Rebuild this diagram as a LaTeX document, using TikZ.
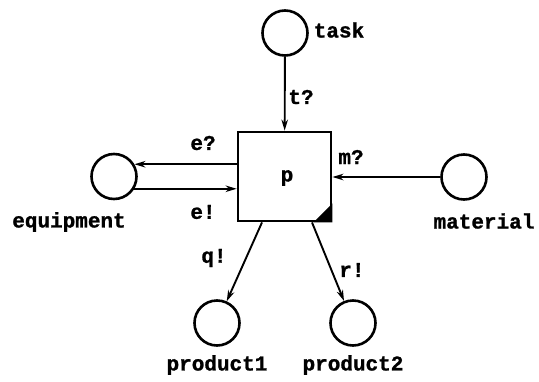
\documentclass[tikz,border=0pt]{standalone}
\usepackage{fontspec}
\newfontfamily\labelfont{Liberation Mono}[BoldFont=* Bold, BoldFeatures={FakeBold=1.2}]
\usetikzlibrary{arrows.meta}
\tikzset{
  place/.style={circle, draw, line width=2.6pt, minimum size=45pt, inner sep=0pt},
  process/.style={rectangle, draw, line width=2.8pt, minimum width=93pt, minimum height=89pt, inner sep=0pt},
  txt/.style={font=\labelfont\bfseries\fontsize{21}{21}\selectfont, inner sep=0pt},
  chan/.style={line width=1.9pt, -{Stealth[length=11pt, width=6.5pt]}},
}
\begin{document}
\begin{tikzpicture}[x=1pt, y=-1pt]
\useasboundingbox (0,0) rectangle (539,381);
% process and its places
\node[process] (p) at (284.5,176.5) {};
\node[txt] (plabel) at (287,178) {p};
\node[place] (task) at (285,33) {};
\node[place] (equip) at (114,176.5) {};
\node[place] (mat) at (464,177) {};
\node[place] (prod1) at (217,323) {};
\node[place] (prod2) at (353,323) {};
% corner mark of the process
\fill ([xshift=-19pt]p.south east) -- (p.south east) -- ([yshift=19pt]p.south east) -- cycle;
% place names
\node[txt] (tasklabel) at (339,30) {task};
\node[txt] (equiplabel) at (69,222) {equipment};
\node[txt] (matlabel) at (484,221) {material};
\node[txt] (prod1label) at (217,365) {product1};
\node[txt] (prod2label) at (353,365) {product2};
% channels
\draw[chan] (task) -- (p);
\draw[chan] (equip.31 -| p.west) -- (equip.31);
\draw[chan] (equip.-31) -- (equip.-31 -| p.west);
\draw[chan] (mat) -- (mat -| p.east);
\draw[chan] ([xshift=-22.5pt]p.south) -- (prod1);
\draw[chan] ([xshift=27.5pt]p.south) -- (prod2);
% channel names
\node[txt] (tl) at (301,97) {t?};
\node[txt] (el1) at (203,143) {e?};
\node[txt] (el2) at (203,212) {e!};
\node[txt] (ml) at (351,157) {m?};
\node[txt] (ql) at (214,258) {q!};
\node[txt] (rl) at (352,270) {r!};
\end{tikzpicture}
\end{document}
